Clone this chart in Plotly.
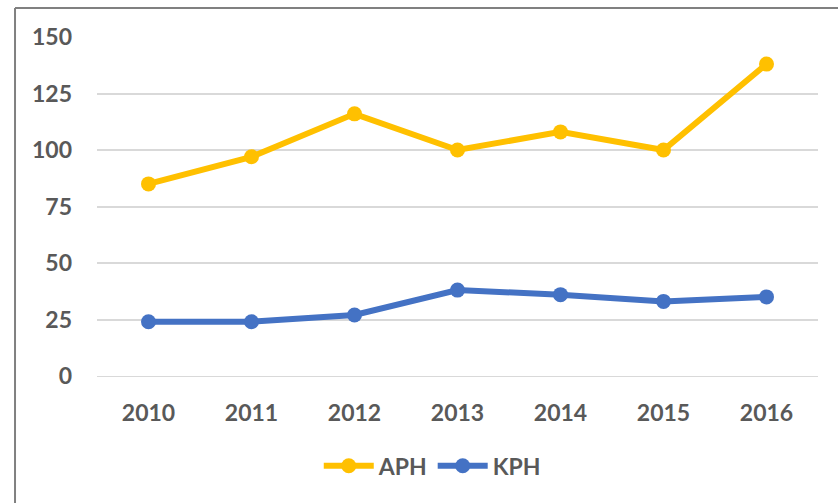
import plotly.graph_objects as go

years = ["2010", "2011", "2012", "2013", "2014", "2015", "2016"]
aph = [85, 97, 116, 100, 108, 100, 138]
kph = [24, 24, 27, 38, 36, 33, 35]
y_ticks = [0, 25, 50, 75, 100, 125, 150]

font_family = "Lato, 'Open Sans', sans-serif"
text_color = "#595959"
label_font = dict(family=font_family, size=23, color=text_color, weight="bold")

fig = go.Figure()
fig.add_trace(go.Scatter(
    x=years, y=aph, name="APH", mode="lines+markers",
    line=dict(color="#FFC000", width=6),
    marker=dict(color="#FFC000", size=15),
))
fig.add_trace(go.Scatter(
    x=years, y=kph, name="KPH", mode="lines+markers",
    line=dict(color="#4472C4", width=6),
    marker=dict(color="#4472C4", size=15),
))

# outer frame of the chart area
fig.add_shape(type="line", xref="paper", yref="paper",
              x0=-0.1137, x1=-0.1137, y0=1.0855, y1=-0.5,
              line=dict(color="#808080", width=2))
fig.add_shape(type="line", xref="paper", yref="paper",
              x0=-0.1137, x1=1.2, y0=1.0855, y1=1.0855,
              line=dict(color="#808080", width=2))

fig.update_layout(
    width=838, height=503,
    margin=dict(l=97, r=20, t=37, b=127),
    paper_bgcolor="white", plot_bgcolor="white",
    font=dict(family=font_family, color=text_color, size=23),
    showlegend=True,
    legend=dict(orientation="h", x=0.465, xanchor="center",
                y=-0.265, yanchor="middle",
                font=label_font, itemwidth=50),
    xaxis=dict(type="category", range=[-0.5, 6.5], showgrid=False,
               showline=True, linecolor="#d9d9d9", linewidth=1,
               ticks="", ticklabelstandoff=16, tickfont=label_font),
    yaxis=dict(range=[0, 150], tickvals=y_ticks, showgrid=True,
               gridcolor="#d9d9d9", gridwidth=1.5, zeroline=False,
               showline=False, ticks="", ticklabelstandoff=24,
               tickfont=label_font),
)

fig.write_html("out.html")
